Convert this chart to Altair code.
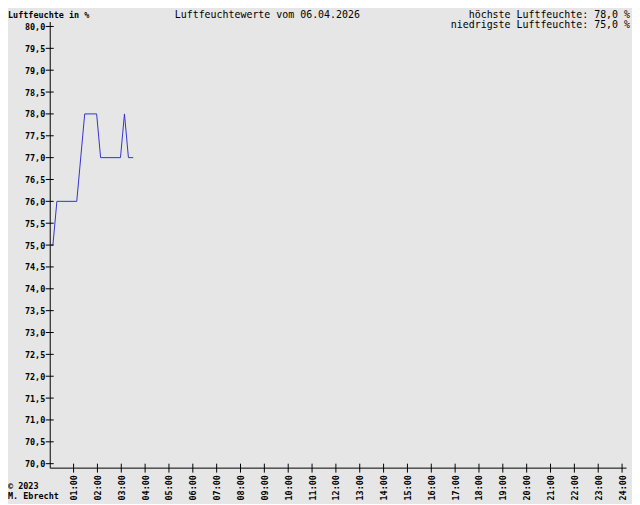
import altair as alt
import pandas as pd

# ---- data ----
times = ["00:00", "00:08", "00:18", "01:08", "01:28", "01:58",
         "02:08", "02:58", "03:08", "03:18", "03:30"]
humidity = [75.0, 75.0, 76.0, 76.0, 78.0, 78.0, 77.0, 77.0, 78.0, 77.0, 77.0]
hour_ticks = list(range(1, 25))
y_ticks = [70.0, 70.5, 71.0, 71.5, 72.0, 72.5, 73.0, 73.5, 74.0, 74.5, 75.0,
           75.5, 76.0, 76.5, 77.0, 77.5, 78.0, 78.5, 79.0, 79.5, 80.0]
title_text = ["Luftfeuchtewerte vom 06.04.2026"]
max_text = ["höchste Luftfeuchte: 78,0 %"]
min_text = ["niedrigste Luftfeuchte: 75,0 %"]
y_title = ["Luftfeuchte in %"]
copyright_1 = ["© 2023"]
copyright_2 = ["M. Ebrecht"]

df = pd.DataFrame({"time": times, "hum": humidity})
df["h"] = [int(t[:2]) + int(t[3:]) / 60 for t in times]

W, H = 580, 449
FONT = "DejaVu Sans Mono"
xs = alt.Scale(domain=[0, W / 24], nice=False, zero=False)
ys = alt.Scale(domain=[70 - 4 / 44, 80 + 5 / 44], nice=False, zero=False)

x_axis = alt.Axis(values=hour_ticks,
                  labelExpr="(datum.value < 10 ? '0' : '') + datum.value + ':00'",
                  labelAngle=270, ticks=False, grid=False, title=None,
                  labelPadding=7, labelFont=FONT, labelFontSize=8.5,
                  labelFontWeight="bold", labelColor="black",
                  domainColor="black", labelOverlap=False, labelFlush=False)
y_axis = alt.Axis(values=y_ticks,
                  labelExpr="replace(format(datum.value, '.1f'), '.', ',')",
                  ticks=False, grid=False, title=None, labelPadding=5,
                  labelFont=FONT, labelFontSize=8.5, labelFontWeight="bold",
                  labelColor="black", domainColor="black",
                  labelOverlap=False, labelFlush=False)

line = alt.Chart(df).mark_line(color="#3333cc", strokeWidth=1).encode(
    x=alt.X("h:Q", scale=xs, axis=x_axis),
    y=alt.Y("hum:Q", scale=ys, axis=y_axis),
)

ytick = alt.Chart(pd.DataFrame({"hum": y_ticks})).mark_rule(
    color="black", strokeWidth=1).encode(
    y=alt.Y("hum:Q", scale=ys, axis=y_axis),
    x=alt.value(-4), x2=alt.value(4))

xtick = alt.Chart(pd.DataFrame({"h": hour_ticks})).mark_rule(
    color="black", strokeWidth=1).encode(
    x=alt.X("h:Q", scale=xs, axis=x_axis),
    y=alt.value(H - 4), y2=alt.value(H + 5))


def label(values, x, y, align, size, weight="normal"):
    return alt.Chart(pd.DataFrame({"t": values})).mark_text(
        font=FONT, fontSize=size, fontWeight=weight, align=align,
        baseline="middle", color="black").encode(
        text="t:N", x=alt.value(x), y=alt.value(y))


texts = [
    label(title_text, 219, -7, "center", 10),
    label(max_text, 584, -7, "right", 10),
    label(min_text, 584, 4, "right", 10),
    label(y_title, -42, -7, "left", 8.5, "bold"),
    label(copyright_1, -42, 467, "left", 8.5, "bold"),
    label(copyright_2, -42, 478, "left", 8.5, "bold"),
]

chart = alt.layer(line, ytick, xtick, *texts).properties(
    width=W, height=H,
    autosize=alt.AutoSizeParams(type="none"),
    padding={"left": 42, "top": 12, "right": 6, "bottom": 35},
).configure(background="#e6e6e6").configure_view(stroke=None)

chart.save("out.html", embed_options={"renderer": "svg", "actions": False})
